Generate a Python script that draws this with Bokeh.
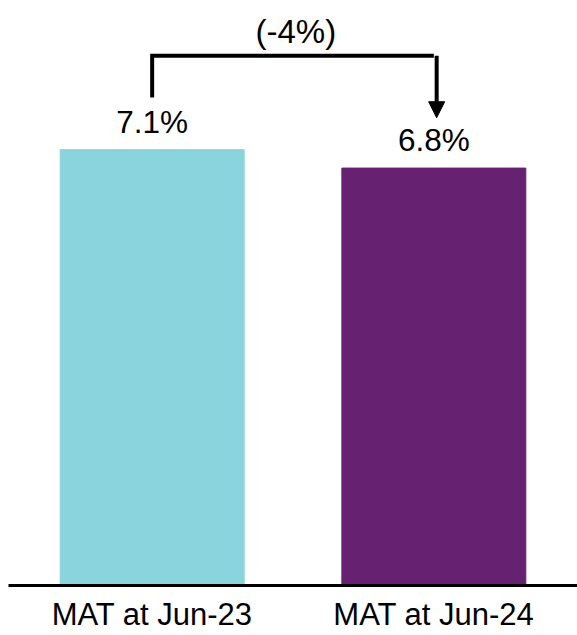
from bokeh.plotting import figure
from bokeh.models import ColumnDataSource, FactorRange, Range1d, Arrow, NormalHead
from bokeh.core.properties import value
from bokeh.embed import file_html
from bokeh.resources import INLINE

# Data
categories = ["MAT at Jun-23", "MAT at Jun-24"]
values = [7.1, 6.8]
value_labels = ["7.1%", "6.8%"]
colors = ["#8AD4DD", "#672171"]
change_label = "(-4%)"

FONT = "Liberation Sans"

p = figure(
    x_range=FactorRange(factors=categories, range_padding=0.01, range_padding_units="absolute"),
    y_range=Range1d(0, 9.53),
    width=577, height=635,
    output_backend="svg", toolbar_location=None,
    min_border_left=8, min_border_right=0, min_border_top=0, min_border_bottom=50,
)

src = ColumnDataSource(dict(cat=categories, val=values, lab=value_labels, col=colors))

# Bars
p.vbar(x="cat", top="val", width=0.653, color="col", source=src)

# Value labels above bars
p.text(x="cat", y="val", text="lab", source=src, y_offset=-28,
       text_align="center", text_baseline="alphabetic",
       text_font=value(FONT), text_font_size="31.5px", text_color="#000000")

# Bracket showing the change between the two periods
left_end = values[0] + 0.85
bracket_top = max(values) + 1.53
arrow_tip = values[1] + 0.82
p.line(x=[categories[0], categories[0], categories[1]],
       y=[left_end, bracket_top, bracket_top],
       line_width=4, line_color="black", line_join="miter", line_cap="butt")
p.add_layout(Arrow(
    end=NormalHead(size=16, fill_color="black", line_color="black", line_width=1),
    x_start=1.51, y_start=bracket_top, x_end=1.51, y_end=arrow_tip,
    line_width=4, line_color="black",
))
p.text(x=[1.01], y=[bracket_top], text=[change_label], y_offset=-24,
       text_align="center", text_baseline="alphabetic",
       text_font=value(FONT), text_font_size="33px", text_color="#000000")

# Axes and styling
p.yaxis.visible = False
p.xgrid.visible = False
p.ygrid.visible = False
p.outline_line_color = None
p.xaxis.axis_line_width = 3
p.xaxis.axis_line_color = "black"
p.xaxis.major_tick_line_color = None
p.xaxis.minor_tick_line_color = None
p.xaxis.major_label_standoff = 5
p.xaxis.major_label_text_font = FONT
p.xaxis.major_label_text_font_size = "31px"
p.xaxis.major_label_text_color = "#000000"
p.background_fill_color = "white"
p.border_fill_color = "white"

open("out.html", "w").write(file_html(p, INLINE))
